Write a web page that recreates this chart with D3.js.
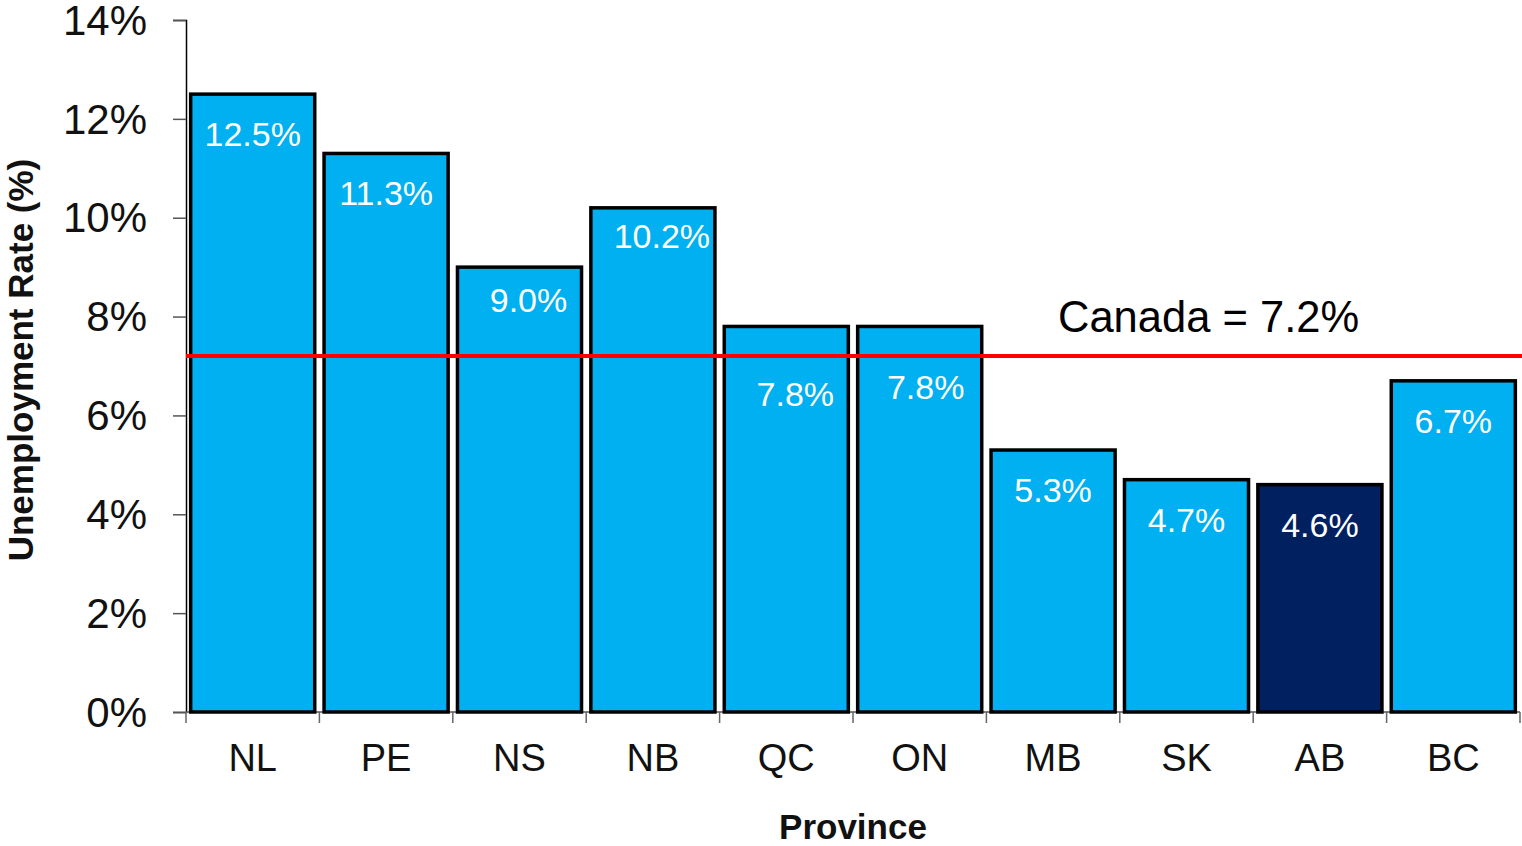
<!DOCTYPE html>
<html><head><meta charset="utf-8">
<script src="https://cdn.jsdelivr.net/npm/d3@7"></script>
<style>body{margin:0;background:#fff}svg{display:block}text{font-family:"Liberation Sans",Arial,sans-serif}</style>
</head><body><svg id="c" width="1522" height="846"></svg>
<script>
const provinces = ["NL","PE","NS","NB","QC","ON","MB","SK","AB","BC"];
const rates = [12.5, 11.3, 9.0, 10.2, 7.8, 7.8, 5.3, 4.7, 4.6, 6.7];
const canadaRate = 7.2;
const highlight = ["AB"];
const yTicks = [0, 2, 4, 6, 8, 10, 12, 14];

const svg = d3.select("#c");
const m = {l:186, r:1520, t:20, b:712};
const x = d3.scaleBand().domain(provinces).range([m.l, m.r]).paddingInner(0.07).paddingOuter(0.035);
const y = d3.scaleLinear().domain([0, 14]).range([m.b, m.t]);

// y axis
const ya = svg.append("g").attr("transform", `translate(${m.l},0)`)
  .call(d3.axisLeft(y).tickValues(yTicks).tickFormat(d => d + "%").tickSize(13).tickPadding(26));
ya.select(".domain").attr("stroke", "#000").attr("stroke-width", 1.5);
ya.selectAll(".tick line").attr("stroke", "#555").attr("stroke-width", 1.5);
ya.selectAll("text").attr("font-size", 42).attr("fill", "#111").attr("dy", "0.34em");

// x axis: ticks at band boundaries
const xa = svg.append("g").attr("transform", `translate(0,${m.b})`);
xa.append("line").attr("x1", m.l).attr("x2", m.r).attr("stroke", "#555").attr("stroke-width", 1.5);
const step = x.step();
const bounds = provinces.map((p, i) => x(p) - step * x.paddingOuter()).concat([m.r]);
xa.selectAll(".xt").data(bounds).join("line").attr("class", "xt")
  .attr("x1", d => d).attr("x2", d => d).attr("y1", 0).attr("y2", 11)
  .attr("stroke", "#666").attr("stroke-width", 1.5);
xa.selectAll(".xl").data(provinces).join("text").attr("class", "xl")
  .attr("x", d => x(d) + x.bandwidth() / 2).attr("y", 59)
  .attr("text-anchor", "middle").attr("font-size", 38).attr("fill", "#111").text(d => d);

// bars
const bars = svg.append("g");
bars.selectAll("rect").data(provinces).join("rect")
  .attr("x", d => x(d)).attr("width", x.bandwidth())
  .attr("y", (d, i) => y(rates[i])).attr("height", (d, i) => y(0) - y(rates[i]))
  .attr("fill", d => highlight.includes(d) ? "#002060" : "#00B0F0")
  .attr("stroke", "#000").attr("stroke-width", 3.5);

// value labels
const shift = {NS: -7, NB: -12, QC: 28, ON: 21};
const xshift = {NS: 9, NB: 9, QC: 9, ON: 6};
bars.selectAll("text").data(provinces).join("text")
  .attr("x", d => x(d) + x.bandwidth() / 2 + (xshift[d] || 0))
  .attr("y", (d, i) => y(rates[i]) + 52 + (shift[d] || 0))
  .attr("text-anchor", "middle").attr("font-size", 34).attr("fill", "#fff")
  .text((d, i) => rates[i].toFixed(1) + "%");

// Canada line
svg.append("line").attr("x1", m.l).attr("x2", 1522)
  .attr("y1", y(canadaRate)).attr("y2", y(canadaRate))
  .attr("stroke", "#FF0000").attr("stroke-width", 4);
svg.append("text").attr("x", 1058).attr("y", y(canadaRate) - 24)
  .attr("font-size", 43.5).attr("fill", "#000").text("Canada = " + canadaRate.toFixed(1) + "%");

// titles
svg.append("text").attr("x", (m.l + m.r) / 2).attr("y", 839).attr("text-anchor", "middle")
  .attr("font-size", 35).attr("font-weight", "bold").attr("fill", "#111").text("Province");
svg.append("text").attr("transform", `translate(33,360) rotate(-90)`).attr("text-anchor", "middle")
  .attr("font-size", 35).attr("font-weight", "bold").attr("fill", "#111").text("Unemployment Rate (%)");
</script></body></html>
